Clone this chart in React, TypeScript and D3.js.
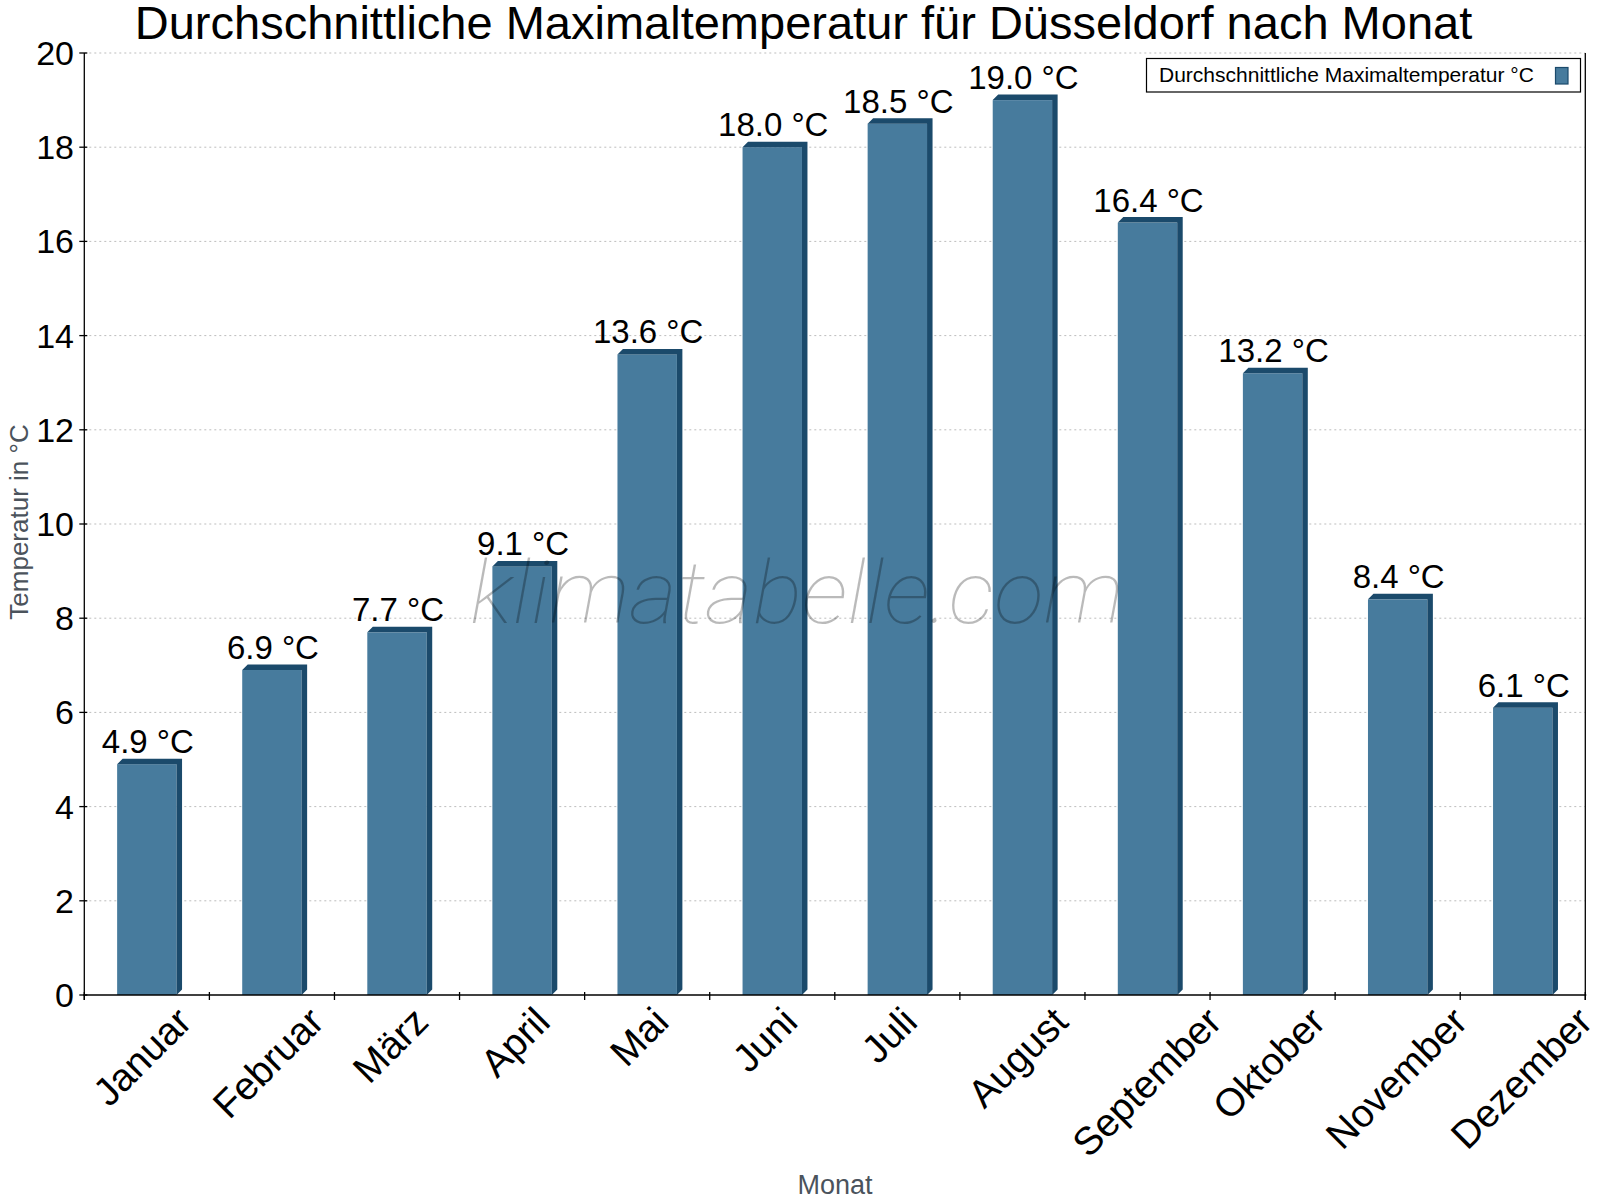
import React, { useEffect, useRef } from 'react';
import * as d3 from 'd3';

const months = ['Januar', 'Februar', 'März', 'April', 'Mai', 'Juni', 'Juli', 'August', 'September', 'Oktober', 'November', 'Dezember'];
const maxTemps = [4.9, 6.9, 7.7, 9.1, 13.6, 18.0, 18.5, 19.0, 16.4, 13.2, 8.4, 6.1];
const yTicks = [0, 2, 4, 6, 8, 10, 12, 14, 16, 18, 20];

const TITLE = 'Durchschnittliche Maximaltemperatur für Düsseldorf nach Monat';
const LEGEND = 'Durchschnittliche Maximaltemperatur °C';
const FRONT = '#477b9d';
const DARK = '#1b4a6b';
const FONT = '"Liberation Sans", Arial, sans-serif';

export default function App() {
  const ref = useRef<SVGSVGElement | null>(null);

  useEffect(() => {
    if (!ref.current) return;
    const svg = d3.select(ref.current);
    svg.selectAll('*').remove();

    const left = 84.3, right = 1585.3, top = 53, bottom = 995;
    const x = d3.scaleBand<string>().domain(months).range([left, right]).padding(0);
    const y = d3.scaleLinear().domain([0, 20]).range([bottom, top]);
    const bw = x.bandwidth();
    const barW = bw * 0.475;
    const depth = 5.5;

    svg.append('rect').attr('width', 1600).attr('height', 1200).attr('fill', '#fff');

    // title
    svg.append('text')
      .attr('x', 803.5).attr('y', 39)
      .attr('text-anchor', 'middle')
      .style('font-family', FONT).style('font-size', '47px')
      .text(TITLE);

    // grid lines
    svg.selectAll('.grid')
      .data(yTicks.filter(d => d > 0))
      .join('line')
      .attr('x1', left).attr('x2', right)
      .attr('y1', d => y(d)).attr('y2', d => y(d))
      .attr('stroke', '#bdbdbd').attr('stroke-width', 1)
      .attr('stroke-dasharray', '2,3');

    // bars (front, top face, side face)
    const bars = svg.selectAll('.bar').data(maxTemps).join('g');
    bars.append('rect')
      .attr('x', (d, i) => x(months[i])! + bw / 2 - barW / 2)
      .attr('y', d => y(d))
      .attr('width', barW)
      .attr('height', d => bottom - y(d))
      .attr('fill', FRONT);
    bars.append('path')
      .attr('d', (d, i) => {
        const x0 = x(months[i])! + bw / 2 - barW / 2;
        const x1 = x0 + barW;
        const yt = y(d);
        return `M${x0},${yt}L${x0 + depth},${yt - depth}L${x1 + depth},${yt - depth}L${x1 + depth},${bottom - depth}L${x1},${bottom}L${x1},${yt}Z`;
      })
      .attr('fill', DARK);

    // watermark
    svg.append('text')
      .attr('x', 470).attr('y', 623)
      .attr('textLength', 654).attr('lengthAdjust', 'spacingAndGlyphs')
      .style('font-family', 'Roboto, "Open Sans", sans-serif')
      .style('font-weight', 100).style('font-style', 'italic')
      .style('font-size', '88px')
      .attr('fill', '#000').attr('fill-opacity', 0.27)
      .text('klimatabelle.com');

    // value labels
    svg.selectAll('.val').data(maxTemps).join('text')
      .attr('x', (d, i) => x(months[i])! + bw / 2 + 1)
      .attr('y', d => y(d) - 11)
      .attr('text-anchor', 'middle')
      .style('font-family', FONT).style('font-size', '33px')
      .text(d => `${d.toFixed(1)} °C`);

    // axes
    svg.append('line').attr('x1', left).attr('x2', left).attr('y1', top).attr('y2', bottom + 5)
      .attr('stroke', '#000').attr('stroke-width', 1.3);
    svg.append('line').attr('x1', right).attr('x2', right).attr('y1', top).attr('y2', bottom + 5)
      .attr('stroke', '#000').attr('stroke-width', 1.3);
    svg.append('line').attr('x1', left - 1).attr('x2', right + 1).attr('y1', bottom).attr('y2', bottom)
      .attr('stroke', '#000').attr('stroke-width', 1.3);

    // y ticks + labels
    svg.selectAll('.ytick').data(yTicks).join('line')
      .attr('x1', left - 5).attr('x2', left + 3)
      .attr('y1', d => y(d)).attr('y2', d => y(d))
      .attr('stroke', '#000').attr('stroke-width', 1.3);
    svg.selectAll('.ylab').data(yTicks).join('text')
      .attr('x', 74).attr('y', d => y(d) + 12)
      .attr('text-anchor', 'end')
      .style('font-family', FONT).style('font-size', '34px')
      .text(d => String(d));

    // x ticks at band edges
    const edges = months.map(m => x(m)!).concat([right]);
    svg.selectAll('.xtick').data(edges).join('line')
      .attr('x1', d => d).attr('x2', d => d)
      .attr('y1', bottom - 3).attr('y2', bottom + 5)
      .attr('stroke', '#000').attr('stroke-width', 1.3);

    // rotated month labels
    svg.selectAll('.xlab').data(months).join('text')
      .style('font-family', FONT).style('font-size', '39px')
      .attr('text-anchor', 'end')
      .text(d => d)
      .each(function (d) {
        const w = (this as SVGTextElement).getComputedTextLength();
        const ex = x(d)! + bw / 2 + 0.41 * w - 2;
        const ey = 1024;
        d3.select(this).attr('transform', `translate(${ex},${ey}) rotate(-45)`);
      });

    // axis titles
    svg.append('text')
      .attr('transform', 'translate(28,522) rotate(-90)')
      .attr('text-anchor', 'middle')
      .style('font-family', FONT).style('font-size', '26px')
      .attr('fill', '#4b535c')
      .text('Temperatur in °C');
    svg.append('text')
      .attr('x', 835).attr('y', 1194)
      .attr('text-anchor', 'middle')
      .style('font-family', FONT).style('font-size', '27px')
      .attr('fill', '#4b535c')
      .text('Monat');

    // legend
    const lg = svg.append('g');
    lg.append('rect').attr('x', 1146.5).attr('y', 58.5).attr('width', 434).attr('height', 33.5)
      .attr('fill', '#fff').attr('stroke', '#000').attr('stroke-width', 1.2);
    lg.append('text').attr('x', 1159).attr('y', 82)
      .style('font-family', FONT).style('font-size', '21px')
      .text(LEGEND);
    lg.append('rect').attr('x', 1555.5).attr('y', 67.5).attr('width', 12.5).attr('height', 16.5)
      .attr('fill', FRONT).attr('stroke', DARK).attr('stroke-width', 1.2);
  }, []);

  return (
    <svg
      ref={ref}
      width={1600}
      height={1200}
      style={{ position: 'absolute', left: 0, top: 0, display: 'block' }}
    />
  );
}
